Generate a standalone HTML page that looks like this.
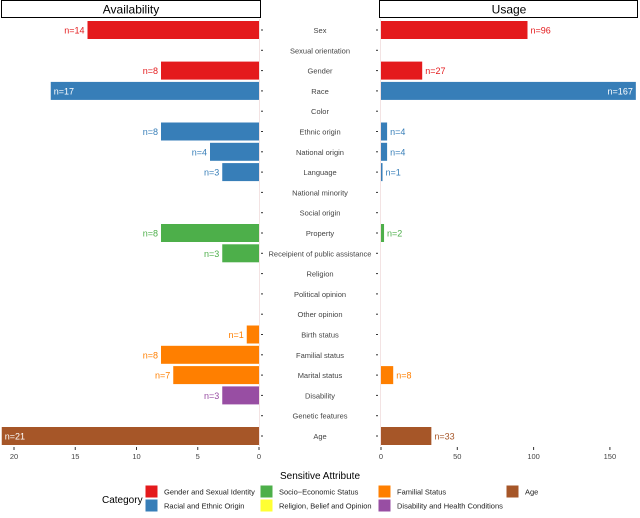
<!DOCTYPE html>
<html><head><meta charset="utf-8"><style>
body{margin:0;background:#fff;width:640px;height:513px;overflow:hidden;font-family:"Liberation Sans",sans-serif}
svg text{font-family:"Liberation Sans",sans-serif}
</style></head><body>
<svg id="c" width="640" height="513"></svg>
<script>
const categories=["Sex","Sexual orientation","Gender","Race","Color","Ethnic origin","National origin","Language","National minority","Social origin","Property","Receipient of public assistance","Religion","Political opinion","Other opinion","Birth status","Familial status","Marital status","Disability","Genetic features","Age"];
const groups=["g","g","g","r","r","r","r","r","r","s","s","s","b","b","b","f","f","f","d","d","a"];
const availability=[14,0,8,17,0,8,4,3,0,0,8,3,0,0,0,1,8,7,3,0,21];
const usage=[96,0,27,167,0,4,4,1,0,0,2,0,0,0,0,0,0,8,0,0,33];
const leftTicks=[20,15,10,5,0];
const rightTicks=[0,50,100,150];
const colors={g:"#E41A1C",r:"#377EB8",s:"#4DAF4A",b:"#FFFF33",f:"#FF7F00",d:"#984EA3",a:"#A65628"};
const legendItems=[["g","Gender and Sexual Identity"],["r","Racial and Ethnic Origin"],["s","Socio−Economic Status"],["b","Religion, Belief and Opinion"],["f","Familial Status"],["d","Disability and Health Conditions"],["a","Age"]];
const svg=document.getElementById('c');const NS="http://www.w3.org/2000/svg";
function mk(t,a,txt){const e=document.createElementNS(NS,t);for(const k in a)e.setAttribute(k,a[k]);if(txt!==undefined)e.textContent=txt;svg.appendChild(e);return e;}
const xL=v=>259-v*12.25, xR=v=>381+v*1.526, yR=i=>30+i*20.3;
let e;
e=mk('rect',{x:1.5,y:0.5,width:259,height:17,fill:"#fff",stroke:"#000"});

e=mk('text',{x:131,y:13.5,'font-size':12,'text-anchor':'middle'},"Availability");

e=mk('rect',{x:379.5,y:0.5,width:258,height:17,fill:"#fff",stroke:"#000"});

e=mk('text',{x:509,y:13.5,'font-size':12,'text-anchor':'middle'},"Usage");

mk('line',{x1:259.5,y1:19,x2:259.5,y2:446,stroke:"#f3e3e3"});
mk('line',{x1:380.5,y1:19,x2:380.5,y2:446,stroke:"#f3e3e3"});
categories.forEach((c,i)=>{
 const y=yR(i),col=colors[groups[i]];
 e=mk('text',{x:320,y:y+3,'font-size':7.5,'text-anchor':'middle',fill:"#444"},c);
 
 mk('line',{x1:261,y1:y,x2:263,y2:y,stroke:"#333"});
 mk('line',{x1:376,y1:y,x2:378,y2:y,stroke:"#333"});
 const a=availability[i];
 if(a>0){
  e=mk('rect',{x:xL(a),y:y-9,width:xL(0)-xL(a),height:18,fill:col});
  
  const inside=a>=17;
  e=mk('text',{x:inside?xL(a)+3:xL(a)-3,y:y+3.5,'font-size':9,'text-anchor':inside?'start':'end',fill:inside?"#fff":col},"n="+a);
  
 }
 const u=usage[i];
 if(u>0){
  e=mk('rect',{x:xR(0),y:y-9,width:xR(u)-xR(0),height:18,fill:col});
  
  const inside=u>=120;
  e=mk('text',{x:inside?xR(u)-3:xR(u)+3,y:y+3.5,'font-size':9,'text-anchor':inside?'end':'start',fill:inside?"#fff":col},"n="+u);
  
 }
});
leftTicks.forEach(t=>{mk('line',{x1:xL(t),y1:447,x2:xL(t),y2:450,stroke:"#333"});
 e=mk('text',{x:xL(t),y:459,'font-size':7.5,'text-anchor':'middle',fill:"#444"},t);
 });
rightTicks.forEach(t=>{mk('line',{x1:xR(t),y1:447,x2:xR(t),y2:450,stroke:"#333"});
 e=mk('text',{x:xR(t),y:459,'font-size':7.5,'text-anchor':'middle',fill:"#444"},t);
 });
e=mk('text',{x:320,y:479,'font-size':10,'text-anchor':'middle'},"Sensitive Attribute");

e=mk('text',{x:102,y:503,'font-size':10},"Category");

const lx=[145,145,260,260,378,378,506],ly=[485,499,485,499,485,499,485];
legendItems.forEach((it,k)=>{
 e=mk('rect',{x:lx[k],y:ly[k],width:13,height:13,fill:colors[it[0]],stroke:"#fff"});
 
 e=mk('text',{x:lx[k]+19,y:ly[k]+9.5,'font-size':7.5,fill:"#222"},it[1]);
 
});
</script>
</body></html>
